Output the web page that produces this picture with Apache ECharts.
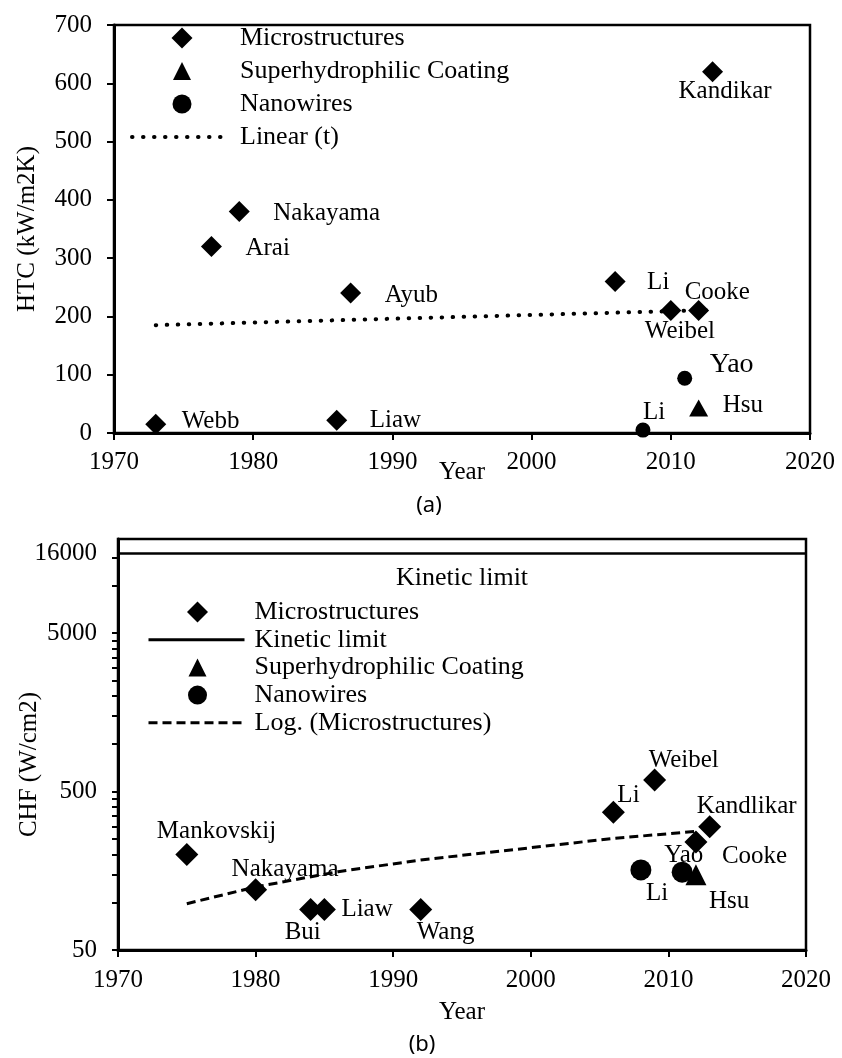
<!DOCTYPE html>
<html>
<head>
<meta charset="utf-8">
<title>HTC and CHF by year</title>
<script src="https://cdn.jsdelivr.net/npm/echarts@6/dist/echarts.min.js"></script>
<style>
  html, body { margin: 0; padding: 0; background: #fff; }
  #chart { width: 842px; height: 1058px; }
</style>
</head>
<body>
<div id="chart"></div>
<script>
// (a) heat transfer coefficient, kW/m2K
var htcMicroNames = ['Webb', 'Arai', 'Nakayama', 'Liaw', 'Ayub', 'Li', 'Weibel', 'Cooke', 'Kandikar'];
var htcMicroYears = [1973, 1977, 1979, 1986, 1987, 2006, 2010, 2012, 2013];
var htcMicroValues = [15, 320, 380, 22, 240, 260, 210, 210, 620];
var htcCoatingNames = ['Hsu'];
var htcCoatingYears = [2012];
var htcCoatingValues = [43];
var htcWireNames = ['Li', 'Yao'];
var htcWireYears = [2008, 2011];
var htcWireValues = [5, 94];
var htcTrendYears = [1973, 2013];
var htcTrendValues = [185, 211];

// (b) critical heat flux, W/cm2
var chfMicroNames = ['Mankovskij', 'Nakayama', 'Bui', 'Liaw', 'Wang', 'Li', 'Weibel', 'Cooke', 'Kandlikar'];
var chfMicroYears = [1975, 1980, 1984, 1985, 1992, 2006, 2009, 2012, 2013];
var chfMicroValues = [200, 120, 90, 90, 90, 370, 590, 240, 300];
var chfCoatingNames = ['Hsu'];
var chfCoatingYears = [2012];
var chfCoatingValues = [149];
var chfWireNames = ['Li', 'Yao'];
var chfWireYears = [2008, 2011];
var chfWireValues = [160, 155];
var chfTrendYears = [1975, 1980, 1986, 1992, 1999, 2006, 2012];
var chfTrendValues = [98, 125, 156, 185, 216, 253, 280];
var kineticLimit = 16000;

var chfTickLabels = [50, 500, 5000, 16000];
var chfTickMarks = [50, 100, 150, 200, 250, 300, 350, 400, 450, 500,
  1000, 1500, 2000, 2500, 3000, 3500, 4000, 4500, 5000, 10000, 15000];

// label offsets from the marker centre (layout only)
var htcMicroOffsets = [[26, -3], [34, 2], [34, 2], [33, 0], [34, 2], [32, 1], [-26, 21], [-14, -18], [-34, 20]];
var htcCoatingOffsets = [[24, -2]];
var htcWireOffsets = [[0, -18], [25, -14]];
var chfMicroOffsets = [[-30, -23], [-24, -20], [-26, 23], [17, 0], [-4, 23], [4, -17], [-6, -20], [26, 14], [-13, -20]];
var chfCoatingOffsets = [[13, 27]];
var chfWireOffsets = [[5, 23], [-18, -17]];

var serif = 'Liberation Serif';

function points(years, values, names, offsets) {
  return years.map(function (y, i) {
    return { value: [y, values[i]], name: names[i], label: { offset: offsets[i] } };
  });
}

function pairs(xs, ys) {
  return xs.map(function (x, i) { return [x, ys[i]]; });
}

function plain(v) { return String(v); }

// legend icons: the two leading moveTo points span the whole item box, so the
// marker is not stretched when the icon is fitted to itemWidth x itemHeight
function box(w, h) { return 'path://M0,0M' + w + ',' + h; }
function diamondIcon(w, h, c, s) {
  var r = s / 2, m = h / 2;
  return box(w, h) + 'M' + c + ',' + (m - r) + 'L' + (c + r) + ',' + m + 'L' + c + ',' + (m + r) + 'L' + (c - r) + ',' + m + 'Z';
}
function triangleIcon(w, h, c, s) {
  var r = s / 2, m = h / 2;
  return box(w, h) + 'M' + c + ',' + (m - r) + 'L' + (c + r) + ',' + (m + r) + 'L' + (c - r) + ',' + (m + r) + 'Z';
}
function circleIcon(w, h, c, s) {
  var r = s / 2, m = h / 2;
  return box(w, h) + 'M' + (c - r) + ',' + m + 'A' + r + ',' + r + ',0,1,0,' + (c + r) + ',' + m +
    'A' + r + ',' + r + ',0,1,0,' + (c - r) + ',' + m + 'Z';
}

var pointLabel = {
  show: true,
  position: 'inside',
  align: 'left',
  verticalAlign: 'middle',
  formatter: '{b}',
  color: '#000',
  opacity: 1,
  fontFamily: serif,
  fontSize: 25
};

function scatter(name, gi, symbol, size, data) {
  return {
    name: name, type: 'scatter', xAxisIndex: gi, yAxisIndex: gi,
    symbol: symbol, symbolSize: size,
    itemStyle: { color: '#000', opacity: 1 },
    label: pointLabel,
    emphasis: { disabled: true },
    data: data
  };
}

function xAxisFor(gi, margin, nameGap) {
  return {
    gridIndex: gi, type: 'value', min: 1970, max: 2020, interval: 10,
    axisLine: { show: true, lineStyle: { color: '#000', width: 3 } },
    axisTick: { show: true, inside: false, length: 7, lineStyle: { color: '#000', width: 2 } },
    axisLabel: { color: '#000', fontFamily: serif, fontSize: 25, margin: margin, formatter: plain },
    splitLine: { show: false },
    name: 'Year', nameLocation: 'middle', nameGap: nameGap, nameMoveOverlap: false,
    nameTextStyle: { color: '#000', fontFamily: serif, fontSize: 25 }
  };
}

var legendText = { color: '#000', fontFamily: serif, fontSize: 26, lineHeight: 26 };
var noMarker = { opacity: 0 };

var chart = echarts.init(document.getElementById('chart'));
chart.setOption({
  animation: false,
  backgroundColor: '#fff',
  grid: [
    { left: 114, top: 25, width: 696, height: 408, show: true, borderColor: '#000', borderWidth: 2.5 },
    { left: 118, top: 539, width: 688, height: 411, show: true, borderColor: '#000', borderWidth: 2.5 }
  ],
  xAxis: [xAxisFor(0, 17, 27), xAxisFor(1, 18, 50)],
  yAxis: [
    {
      gridIndex: 0, type: 'value', min: 0, max: 700, interval: 100,
      axisLine: { show: true, lineStyle: { color: '#000', width: 3 } },
      axisTick: { show: true, inside: false, length: 7, lineStyle: { color: '#000', width: 2 } },
      axisLabel: { color: '#000', fontFamily: serif, fontSize: 25, margin: 22, formatter: plain },
      splitLine: { show: false },
      name: 'HTC (kW/m2K)', nameLocation: 'middle', nameGap: 74, nameMoveOverlap: false,
      nameTextStyle: { color: '#000', fontFamily: serif, fontSize: 25 }
    },
    {
      gridIndex: 1, type: 'log', logBase: 10, min: 50, max: 19600,
      axisLine: { show: true, lineStyle: { color: '#000', width: 3 } },
      axisTick: { show: true, inside: false, length: 6, customValues: chfTickMarks, lineStyle: { color: '#000', width: 2 } },
      axisLabel: { color: '#000', fontFamily: serif, fontSize: 25, margin: 21, customValues: chfTickLabels, formatter: plain },
      splitLine: { show: false },
      minorTick: { show: false },
      name: 'CHF (W/cm2)', nameLocation: 'middle', nameGap: 76, nameMoveOverlap: false,
      nameTextStyle: { color: '#000', fontFamily: serif, fontSize: 25, padding: [0, 40, 0, 0] }
    }
  ],
  legend: [
    {
      orient: 'vertical', left: 130, top: 25, padding: 0, itemWidth: 90, itemHeight: 21, itemGap: 7,
      selectedMode: false, align: 'left',
      textStyle: Object.assign({ padding: [0, 0, 0, 13] }, legendText),
      data: [
        { name: 'Microstructures', icon: diamondIcon(90, 21, 50, 21) },
        { name: 'Superhydrophilic Coating', icon: triangleIcon(90, 21, 50, 18) },
        { name: 'Nanowires', icon: circleIcon(90, 21, 50, 19) },
        { name: 'Linear (t)', itemStyle: noMarker, lineStyle: { width: 4 } }
      ]
    },
    {
      orient: 'vertical', left: 147, top: 599, padding: 0, itemWidth: 96, itemHeight: 21, itemGap: 1.7,
      selectedMode: false, align: 'left',
      textStyle: Object.assign({ padding: [0, 0, 0, 5] }, legendText),
      data: [
        { name: 'Microstructures', icon: diamondIcon(96, 21, 49, 21) },
        { name: 'Kinetic limit', itemStyle: noMarker, lineStyle: { width: 3 } },
        { name: 'Superhydrophilic Coating', icon: triangleIcon(96, 21, 49, 18) },
        { name: 'Nanowires', icon: circleIcon(96, 21, 49, 19) },
        { name: 'Log. (Microstructures)', itemStyle: noMarker, lineStyle: { width: 3 } }
      ]
    }
  ],
  graphic: [
    { type: 'text', x: 429, y: 506, style: { text: '(a)', align: 'center', verticalAlign: 'middle', fill: '#000', font: '22px "Noto Sans"' } },
    { type: 'text', x: 422, y: 1045, style: { text: '(b)', align: 'center', verticalAlign: 'middle', fill: '#000', font: '22px "Noto Sans"' } }
  ],
  series: [
    scatter('Microstructures', 0, 'diamond', 21, points(htcMicroYears, htcMicroValues, htcMicroNames, htcMicroOffsets)),
    scatter('Superhydrophilic Coating', 0, 'triangle', [19, 17], points(htcCoatingYears, htcCoatingValues, htcCoatingNames, htcCoatingOffsets)),
    scatter('Nanowires', 0, 'circle', 15, points(htcWireYears, htcWireValues, htcWireNames, htcWireOffsets).map(function (d) {
      if (d.name === 'Yao') d.label.fontSize = 28;
      return d;
    })),
    {
      name: 'Linear (t)', type: 'line', xAxisIndex: 0, yAxisIndex: 0,
      symbol: 'none', silent: true,
      lineStyle: { color: '#000', width: 4, type: [0.5, 10.5], cap: 'round' },
      itemStyle: { color: '#000' },
      data: pairs(htcTrendYears, htcTrendValues)
    },

    scatter('Microstructures', 1, 'diamond', 23, points(chfMicroYears, chfMicroValues, chfMicroNames, chfMicroOffsets)),
    {
      name: 'Kinetic limit', type: 'line', xAxisIndex: 1, yAxisIndex: 1,
      symbol: 'none', silent: true,
      lineStyle: { color: '#000', width: 2.5 },
      itemStyle: { color: '#000' },
      data: [],
      markLine: {
        silent: true, symbol: 'none',
        lineStyle: { color: '#000', width: 2.5, type: 'solid' },
        label: { show: true, position: 'insideMiddleBottom', distance: 12, formatter: 'Kinetic limit',
          color: '#000', fontFamily: serif, fontSize: 26 },
        data: [{ yAxis: kineticLimit }]
      }
    },
    scatter('Superhydrophilic Coating', 1, 'triangle', 21, points(chfCoatingYears, chfCoatingValues, chfCoatingNames, chfCoatingOffsets)),
    scatter('Nanowires', 1, 'circle', 21, points(chfWireYears, chfWireValues, chfWireNames, chfWireOffsets)),
    {
      name: 'Log. (Microstructures)', type: 'line', xAxisIndex: 1, yAxisIndex: 1,
      symbol: 'none', silent: true,
      lineStyle: { color: '#000', width: 3, type: [9, 5] },
      itemStyle: { color: '#000' },
      data: pairs(chfTrendYears, chfTrendValues)
    }
  ]
});
</script>
</body>
</html>
